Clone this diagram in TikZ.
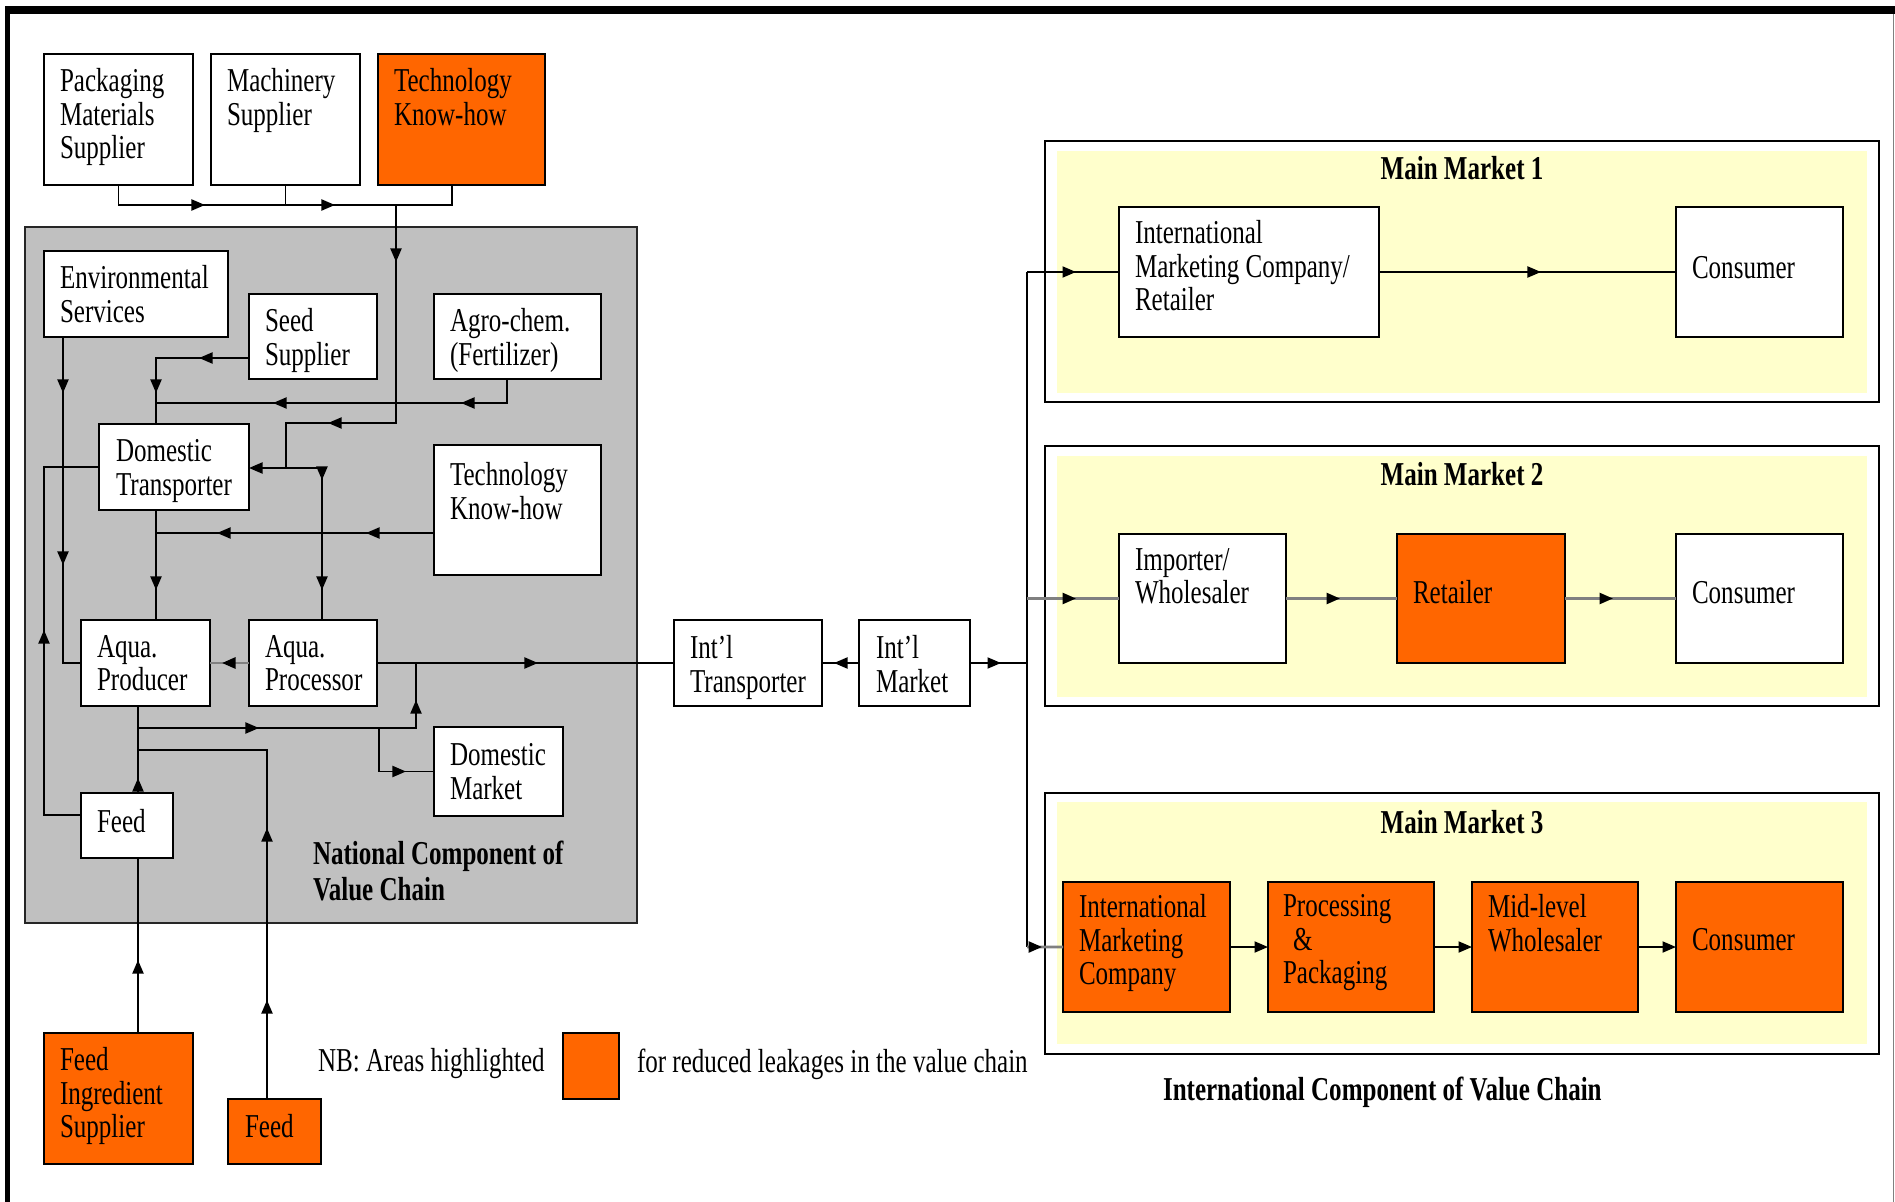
\documentclass[tikz,border=0pt]{standalone}
\usepackage{fontspec}
\setmainfont[FakeStretch=0.75]{Liberation Serif}
\usetikzlibrary{arrows.meta,decorations.markings}
\definecolor{org}{RGB}{255,102,0}
\definecolor{ylw}{RGB}{255,255,204}
\definecolor{gry}{RGB}{192,192,192}
\definecolor{gln}{RGB}{128,128,128}
\newcommand\mkbox[6]{%
 \pgfmathsetmacro\mbW{(#4-#2)*0.02}%
 \pgfmathsetmacro\mbH{(#5-#3)*0.02}%
 \node[#6,anchor=north west,minimum width=\mbW cm,minimum height=\mbH cm] (#1) at (#2,#3) {};}
\tikzset{
 ArrT/.tip={Triangle[length=0.27cm,width=0.22cm]},
 am/.style={postaction={decorate,decoration={markings,mark=at position #1 with {\arrow[black]{ArrT}}}}},
 amm/.style 2 args={postaction={decorate,decoration={markings,mark=at position #1 with {\arrow[black]{ArrT}},mark=at position #2 with {\arrow[black]{ArrT}}}}},
 box/.style={draw=black,line width=1.1pt,fill=white,inner sep=0pt,outer sep=0pt},
 obox/.style={box,fill=org},
 mbox/.style={box,line width=1.3pt},
 ybox/.style={draw=none,fill=ylw,inner sep=0pt,outer sep=0pt},
 gbox/.style={draw=black!85,line width=1pt,fill=gry,inner sep=0pt,outer sep=0pt},
 txt/.style={inner sep=0pt,outer sep=0pt,align=left,font=\fontsize{19}{19.3}\selectfont,anchor=north west},
 txtc/.style={txt,anchor=west},
 ttl/.style={inner sep=0pt,outer sep=0pt,align=left,font=\fontsize{19}{20.5}\selectfont\bfseries},
 conn/.style={draw=black,line width=1.1pt},
 gline/.style={draw=gln,line width=1.5pt},
}
\begin{document}
\begin{tikzpicture}[x=0.02cm,y=-0.02cm]
\useasboundingbox (0,0) rectangle (1895,1202);
% frame
\fill[black] (5,6) rectangle (1895,14);
\fill[black] (5,6) rectangle (10,1202);
\draw[gray,line width=0.6pt] (1893,14) -- (1893,1202);

% national component
\mkbox{natl}{25}{227}{637}{923}{gbox}
\node[ttl,anchor=north west] (natlT) at (313,841) {National Component of\\Value Chain};

% top suppliers
\mkbox{pkg}{44}{54}{193}{185}{box}
\mkbox{mach}{211}{54}{360}{185}{box}
\mkbox{techA}{378}{54}{545}{185}{obox}
\node[txt] (pkgT) at ([shift={(16,14)}]pkg.north west) {Packaging\\Materials\\Supplier};
\node[txt] (machT) at ([shift={(16,14)}]mach.north west) {Machinery\\Supplier};
\node[txt] (techAT) at ([shift={(16,14)}]techA.north west) {Technology\\Know-how};

% inner boxes
\mkbox{env}{44}{251}{228}{337}{box}
\mkbox{seed}{249}{294}{377}{379}{box}
\mkbox{agro}{434}{294}{601}{379}{box}
\mkbox{dtrans}{99}{424}{249}{510}{box}
\mkbox{techB}{434}{445}{601}{575}{box}
\mkbox{prod}{81}{620}{210}{706}{box}
\mkbox{proc}{249}{620}{377}{706}{box}
\mkbox{dmkt}{434}{727}{563}{816}{box}
\mkbox{feedA}{81}{793}{173}{858}{box}
\node[txt] (envT) at ([shift={(16,14)}]env.north west) {Environmental\\Services};
\node[txt] (seedT) at ([shift={(16,14)}]seed.north west) {Seed\\Supplier};
\node[txt] (agroT) at ([shift={(16,14)}]agro.north west) {Agro-chem.\\(Fertilizer)};
\node[txt] (dtransT) at ([shift={(17,15)}]dtrans.north west) {Domestic\\Transporter};
\node[txt] (techBT) at ([shift={(16,17)}]techB.north west) {Technology\\Know-how};
\node[txt] (prodT) at ([shift={(16,15)}]prod.north west) {Aqua.\\Producer};
\node[txt] (procT) at ([shift={(16,15)}]proc.north west) {Aqua.\\Processor};
\node[txt] (dmktT) at ([shift={(16,16)}]dmkt.north west) {Domestic\\Market};
\node[txt] (feedAT) at ([shift={(16,16)}]feedA.north west) {Feed};

% international chain
\mkbox{itrans}{674}{620}{822}{706}{box}
\mkbox{imkt}{859}{620}{970}{706}{box}
\node[txt] (itransT) at ([shift={(16,15)}]itrans.north west) {Int’l\\Transporter};
\node[txt] (imktT) at ([shift={(17,15)}]imkt.north west) {Int’l\\Market};

% bottom
\mkbox{fis}{44}{1033}{193}{1164}{obox}
\mkbox{feedB}{228}{1099}{321}{1164}{obox}
\node[txt] (fisT) at ([shift={(16,14)}]fis.north west) {Feed\\Ingredient\\Supplier};
\node[txt] (feedBT) at ([shift={(17,15)}]feedB.north west) {Feed};
\mkbox{legend}{563}{1033}{619}{1099}{obox}
\node[txtc] (nbT) at (318,1064) {NB: Areas highlighted};
\node[txtc] (nbT2) at (637,1064) {for reduced leakages in the value chain};

% main markets
\mkbox{mmA}{1045}{141}{1879}{402}{mbox}
\mkbox{mmAy}{1057}{151}{1867}{393}{ybox}
\mkbox{mmB}{1045}{446}{1879}{706}{mbox}
\mkbox{mmBy}{1057}{456}{1867}{697}{ybox}
\mkbox{mmC}{1045}{793}{1879}{1054}{mbox}
\mkbox{mmCy}{1057}{802}{1867}{1044}{ybox}
\node[ttl] (mmAT) at (1462,168) {Main Market 1};
\node[ttl] (mmBT) at (1462,474) {Main Market 2};
\node[ttl] (mmCT) at (1462,822) {Main Market 3};

\mkbox{imcA}{1119}{207}{1379}{337}{box}
\mkbox{consA}{1676}{207}{1843}{337}{box}
\node[txt] (imcAT) at ([shift={(16,13)}]imcA.north west) {International\\Marketing Company/\\Retailer};
\node[txtc] (consAT) at ([shift={(16,-4)}]consA.west) {Consumer};

\mkbox{impB}{1119}{534}{1286}{663}{box}
\mkbox{retB}{1397}{534}{1565}{663}{obox}
\mkbox{consB}{1676}{534}{1843}{663}{box}
\node[txt] (impBT) at ([shift={(16,14)}]impB.north west) {Importer/\\Wholesaler};
\node[txtc] (retBT) at ([shift={(16,-6)}]retB.west) {Retailer};
\node[txtc] (consBT) at ([shift={(16,-6)}]consB.west) {Consumer};

\mkbox{imcC}{1063}{882}{1230}{1012}{obox}
\mkbox{ppC}{1268}{882}{1434}{1012}{obox}
\mkbox{mlwC}{1472}{882}{1638}{1012}{obox}
\mkbox{consC}{1676}{882}{1843}{1012}{obox}
\node[txt] (imcCT) at ([shift={(16,12)}]imcC.north west) {International\\Marketing\\Company};
\node[txt] (ppCT) at ([shift={(15,12)}]ppC.north west) {Processing\\\hspace{0.3em}\&\\Packaging};
\node[txt] (mlwCT) at ([shift={(16,12)}]mlwC.north west) {Mid-level\\Wholesaler};
\node[txtc] (consCT) at ([shift={(16,-7)}]consC.west) {Consumer};

\node[ttl,anchor=west] (intlT) at (1163,1092) {International Component of Value Chain};

% ---------- connectors ----------
\coordinate (hb) at (396,205);
\coordinate (hb2) at (452,205);
\draw[conn,amm={2.13cm}{4.73cm}] (pkg.south) |- (hb2) -- (hb2 |- techA.south);
\draw[conn] (mach.south) -- (mach.south |- hb);
\coordinate (k1) at (286,423);
\coordinate (k2) at (286,468);
\coordinate (k3) at (322,468);
\draw[conn,amm={1.14cm}{5.72cm},-{ArrT}] (hb) |- (k1) -- (k2) -- (k2 -| dtrans.east);
\draw[conn,amm={0.96cm}{3.16cm}] (k2) -- (k3) -- (k3 |- proc.north);

\coordinate (s1) at (156,358);
\draw[conn,amm={1.0cm}{2.56cm}] (seed.west |- s1) -- (s1) -- (s1 |- dtrans.north);
\coordinate (a1) at (507,403);
\coordinate (a2) at (156,403);
\draw[conn,amm={1.4cm}{5.16cm}] (a1 |- agro.south) -- (a1) -- (a2);
\coordinate (t1) at (156,533);
\draw[conn,amm={1.36cm}{4.34cm}] (techB.west |- t1) -- (t1);
\draw[conn,am={1.6cm}] (t1 |- dtrans.south) -- (t1 |- prod.north);

\coordinate (e1) at (63,663);
\draw[conn,amm={1.12cm}{4.56cm}] (e1 |- env.south) -- (e1) -- (prod.west);
\coordinate (f1) at (44,815);
\draw[conn,am={4.44cm}] (feedA.west |- f1) -- (f1) -- (f1 |- dtrans.west) -- (dtrans.west);

\coordinate (px) at (138,728);
\draw[conn,am={0.3cm}] (px |- feedA.north) -- (px |- prod.south);
\draw[conn,am={1.46cm}] (px |- fis.north) -- (px |- feedA.south);
\coordinate (q1) at (416,728);
\draw[conn,amm={2.42cm}{6.12cm}] (px) -- (q1) -- (q1 |- proc.east);
\coordinate (r1) at (379,728);
\draw[conn,am={1.41cm}] (r1) |- (dmkt.west);
\coordinate (g1) at (267,750);
\coordinate (g0) at (138,750);
\draw[conn,amm={1.98cm}{5.42cm}] (g1 |- feedB.north) -- (g1) -- (g0);

\draw[gline,am={0.54cm}] (proc.west) -- (prod.east);
\draw[conn,am={3.22cm}] (proc.east) -- (itrans.west);
\draw[conn,am={0.5cm}] (imkt.west) -- (itrans.east);
\coordinate (tr) at (1027,663);
\coordinate (tt) at (1027,272);
\coordinate (tb) at (1027,947);
\draw[conn,am={0.62cm}] (imkt.east) -- (tr);
\draw[conn] (tt) -- (tb);
\draw[conn,am={0.98cm}] (tt) -- (imcA.west);
\draw[conn,am={3.24cm}] (imcA.east) -- (consA.west);
\draw[gline,am={0.98cm}] (tt |- impB.west) -- (impB.west);
\draw[gline,am={1.08cm}] (impB.east) -- (retB.west);
\draw[gline,am={0.96cm}] (retB.east) -- (consB.west);
\draw[gline,am={0.3cm}] (tb) -- (imcC.west);
\draw[conn,-{ArrT}] (imcC.east) -- (ppC.west);
\draw[conn,-{ArrT}] (ppC.east) -- (mlwC.west);
\draw[conn,-{ArrT}] (mlwC.east) -- (consC.west);
\end{tikzpicture}
\end{document}
